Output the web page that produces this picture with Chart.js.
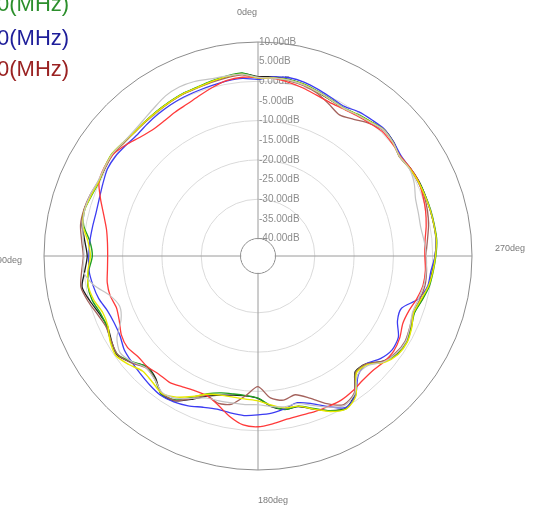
<!DOCTYPE html>
<html>
<head>
<meta charset="utf-8">
<script src="https://cdn.jsdelivr.net/npm/chart.js@4.4.1/dist/chart.umd.min.js"></script>
<style>
html,body{margin:0;padding:0;background:#fff;overflow:hidden;}
#wrap{position:relative;width:538px;height:505px;overflow:hidden;}
canvas{position:absolute;left:0;top:0;}
.lg{position:absolute;left:-3px;font-family:"Liberation Sans",Arial,sans-serif;font-size:22px;line-height:22px;white-space:nowrap;}
</style>
</head>
<body>
<div id="wrap"><canvas id="c" width="538" height="505"></canvas></div>
<script>
// angles (deg, counter-clockwise from top) for each sample
const angles = [0,5,10,15,20,25,30,35,40,45,50,55,60,65,70,75,80,85,
  90,95,100,105,110,115,120,125,130,135,140,145,150,155,160,165,170,175,
  180,185,190,195,200,205,210,215,220,225,230,235,240,245,250,255,260,265,
  270,275,280,285,290,295,300,305,310,315,320,325,330,335,340,345,350,355];

// radial tick labels (dB)
const tickValues = [10,5,0,-5,-10,-15,-20,-25,-30,-35,-40];

// legend texts
const legendLabels = ['0(MHz)','0(MHz)','0(MHz)'];

// series values (dB) at each angle
const seriesBlack = [1.2,2.2,1.9,1.5,1.1,1.0,0.7,0.4,0.2,0.1,0.3,0.8,0.5,0.3,0.8,1.3,1.0,-0.2,
  -1.0,-0.2,1.0,-0.2,-1.5,-2.2,-1.4,-0.6,-2.4,-4.6,-3.9,-1.5,-1.9,-4.2,-6.5,-7.8,-8.5,-8.7,
  -8.2,-6.0,-4.8,-4.8,-3.0,-1.0,0.3,-1.5,-6.0,-5.6,-2.8,-1.2,-0.8,-1.5,-2.2,-1.3,-0.4,0.1,
  0.6,1.1,1.0,0.9,0.8,0.7,0.3,-0.3,0.6,1.0,0.1,-0.5,-1.0,-0.7,-0.1,0.7,1.1,1.3];
const seriesGreen = [1.0,2.3,2.0,1.6,1.2,1.1,0.8,0.5,0.2,0.1,0.4,0.9,0.6,0.2,0.6,1.2,0.6,-1.5,
  -2.3,-1.2,-0.5,-0.8,-1.8,-2.0,-1.2,-0.8,-2.6,-4.5,-3.6,-1.6,-2.2,-4.8,-7.2,-8.4,-8.8,-8.8,
  -8.3,-6.2,-4.8,-4.9,-3.2,-1.0,0.4,-1.2,-5.8,-5.5,-2.6,-1.0,-0.7,-1.4,-2.1,-1.2,-0.2,0.3,
  0.8,1.2,1.1,1.0,0.8,0.6,0.2,-0.4,0.5,1.0,0.2,-0.4,-0.9,-0.5,0.1,0.8,1.1,1.0];
const seriesYellow = [0.9,2.0,1.9,1.5,1.1,1.0,0.7,0.4,0.2,0.1,0.4,0.9,0.6,0.3,0.7,1.2,0.8,-1.0,
  -1.8,-1.0,-0.6,-1.2,-2.4,-2.3,-1.0,-0.3,-1.5,-3.0,-2.6,-1.8,-3.0,-5.0,-7.0,-7.8,-8.0,-7.9,
  -7.6,-6.4,-5.2,-4.9,-3.0,-0.8,0.5,-1.0,-5.5,-5.3,-2.4,-0.9,-0.6,-1.3,-2.3,-1.5,-0.4,0.2,
  0.7,1.1,1.0,0.9,0.7,0.5,0.1,-0.4,0.4,0.9,0.1,-0.5,-1.0,-0.6,0.0,0.7,1.0,1.0];
const seriesBlue = [0.5,0.9,0.8,0.5,0.3,0.2,0.0,-0.3,-0.6,-0.9,-0.6,-0.2,-0.2,-0.9,-1.5,-1.8,-1.7,-1.5,
  -1.4,-1.3,-1.8,-2.5,-3.7,-4.1,-3.9,-2.9,-2.5,-2.1,-1.6,-1.2,-1.6,-2.4,-3.5,-4.1,-3.9,-3.7,
  -4.0,-4.3,-5.0,-5.8,-4.5,-2.2,0.1,-1.2,-4.8,-5.6,-3.8,-2.8,-3.2,-5.3,-5.6,-2.2,-0.6,-0.3,
  0.6,1.0,1.0,0.9,0.7,0.4,0.2,0.0,0.6,1.1,0.7,0.3,-0.5,-0.1,0.6,1.3,1.6,1.3];
const seriesRed = [1.0,1.2,0.9,0.0,-1.0,-1.8,-2.2,-2.6,-2.6,-1.8,-0.5,0.6,0.7,0.2,-1.8,-3.8,-5.3,-6.0,
  -6.2,-6.0,-5.5,-5.5,-6.1,-5.5,-4.3,-3.9,-4.6,-4.6,-5.2,-5.2,-6.0,-6.6,-6.6,-5.2,-3.0,-1.3,
  -1.0,-1.6,-2.3,-2.5,-2.3,-2.2,-2.1,-2.5,-3.1,-3.2,-2.6,-2.3,-2.8,-3.8,-3.6,-2.6,-1.8,-1.7,
  -2.0,-1.8,-1.0,-0.3,0.2,0.6,0.3,-0.2,0.1,0.3,-0.3,-0.8,-1.2,-1.3,-0.9,-0.2,0.4,0.9];
const seriesBrown = [0.8,1.8,1.6,1.3,1.0,0.9,0.6,0.3,0.1,0.0,0.2,0.6,0.4,0.4,1.0,1.4,1.4,0.6,
  0.0,0.6,1.3,0.3,-1.0,-1.8,-1.3,-0.8,-2.2,-4.2,-3.6,-1.8,-2.0,-4.4,-6.6,-5.6,-6.2,-8.8,
  -11.2,-8.2,-7.2,-7.9,-6.0,-3.0,-0.8,-1.8,-5.8,-5.6,-2.8,-1.6,-1.2,-1.8,-2.4,-1.8,-1.3,-1.4,
  -1.7,-1.2,-0.4,0.2,0.5,0.5,0.1,-0.5,0.4,0.7,-0.4,-2.0,-3.0,-1.8,-0.4,0.4,0.8,0.9];
const seriesGray = [1.0,2.0,2.0,2.2,2.8,3.0,2.6,1.6,0.8,0.4,0.4,0.8,0.6,0.5,1.0,1.2,0.8,0.2,
  -0.2,0.2,-2.0,-5.5,-7.0,-6.0,-3.0,-1.6,-2.6,-4.2,-3.5,-2.0,-2.6,-4.5,-6.0,-6.3,-6.5,-6.5,
  -6.6,-6.0,-5.5,-5.6,-4.0,-2.0,-0.5,-1.6,-5.0,-5.0,-2.6,-1.4,-1.0,-1.8,-2.6,-2.2,-1.6,-1.5,
  -1.6,-2.0,-2.4,-2.2,-1.8,-0.6,0.0,-0.4,0.4,0.8,0.0,-0.6,-1.0,-0.6,0.0,0.6,1.0,1.0];

// ---- build ----
const N = angles.length;
// Chart.js radar runs clockwise; the reference runs counter-clockwise
const order = angles.map((a, i) => (N - i) % N);
const chartLabels = order.map(k => angles[k] + 'deg');
const chartAngle = order.map(k => angles[k]);
const toChart = arr => order.map(k => arr[k]);

const legendColors = ['#2c8f2c', '#1e1e9a', '#9a2222'];
const legendTops = [-7, 26.5, 57.5];
const wrap = document.getElementById('wrap');
legendLabels.forEach((t, i) => {
  const d = document.createElement('div');
  d.className = 'lg';
  d.style.top = legendTops[i] + 'px';
  d.style.color = legendColors[i];
  d.textContent = t;
  wrap.appendChild(d);
});

const mk = (label, data, color, w) => ({
  label, data: toChart(data), borderColor: color, borderWidth: w,
  pointRadius: 0, fill: false, tension: 0.25, backgroundColor: 'transparent'
});

const angleLabelStyle = {0: ['right', -1, -5], 90: ['right', 2, 5], 180: ['left', 0, 7], 270: ['left', -1, -7]};

const polarDeco = {
  id: 'polarDeco',
  beforeDatasetsDraw(chart) {
    const s = chart.scales.r;
    const ctx = chart.ctx;
    const rIn = s.getDistanceFromCenterForValue(tickValues[tickValues.length - 1]);
    ctx.save();
    ctx.fillStyle = '#ffffff';
    ctx.beginPath();
    ctx.arc(s.xCenter, s.yCenter, rIn - 0.8, 0, Math.PI * 2);
    ctx.fill();
    ctx.font = '10px "Liberation Sans", Arial, sans-serif';
    ctx.fillStyle = '#8c8c8c';
    ctx.textAlign = 'left';
    ctx.textBaseline = 'middle';
    tickValues.forEach(v => {
      const d = s.getDistanceFromCenterForValue(v);
      ctx.fillText(v.toFixed(2) + 'dB', s.xCenter + 1, s.yCenter - d);
    });
    ctx.font = '9px "Liberation Sans", Arial, sans-serif';
    ctx.fillStyle = '#7a7a7a';
    chartLabels.forEach((lab, i) => {
      const st = angleLabelStyle[chartAngle[i]];
      if (!st) return;
      const p = s.getPointPosition(i, s.drawingArea + 24);
      ctx.textAlign = st[0];
      ctx.fillText(lab, p.x + st[1], p.y + st[2]);
    });
    ctx.restore();
  }
};

new Chart(document.getElementById('c'), {
  type: 'radar',
  data: {
    labels: chartLabels,
    datasets: [
      mk('gray', seriesGray, '#c4c4c4', 1.2),
      mk('yellow', seriesYellow, '#e8e800', 1.4),
      mk('red', seriesRed, '#ff3a3a', 1.3),
      mk('brown', seriesBrown, '#a4625c', 1.3),
      mk('blue', seriesBlue, '#3c3cf2', 1.3),
      mk('green', seriesGreen, '#22a022', 1.4),
      mk('black', seriesBlack, '#1c1c1c', 1.3)
    ]
  },
  options: {
    responsive: false,
    animation: false,
    layout: {padding: {left: 44, right: 66, top: 42, bottom: 35}},
    plugins: {legend: {display: false}, tooltip: {enabled: false}},
    scales: {
      r: {
        min: -44.45,
        max: 10,
        ticks: {display: false, stepSize: 5},
        afterBuildTicks: (scale) => { scale.ticks = tickValues.slice().reverse().map(v => ({value: v})); },
        pointLabels: {display: false},
        grid: {
          circular: true,
          lineWidth: 1,
          color: (c) => {
            const v = c.tick ? c.tick.value : 0;
            if (v === 10 || v === -40) return '#8c8c8c';
            if (v % 10 === 0) return '#dadada';
            return 'rgba(0,0,0,0)';
          }
        },
        angleLines: {
          color: (c) => (chartAngle[c.index] % 90 === 0 ? '#9a9a9a' : 'rgba(0,0,0,0)'),
          lineWidth: 1
        }
      }
    }
  },
  plugins: [polarDeco]
});
</script>
</body>
</html>
